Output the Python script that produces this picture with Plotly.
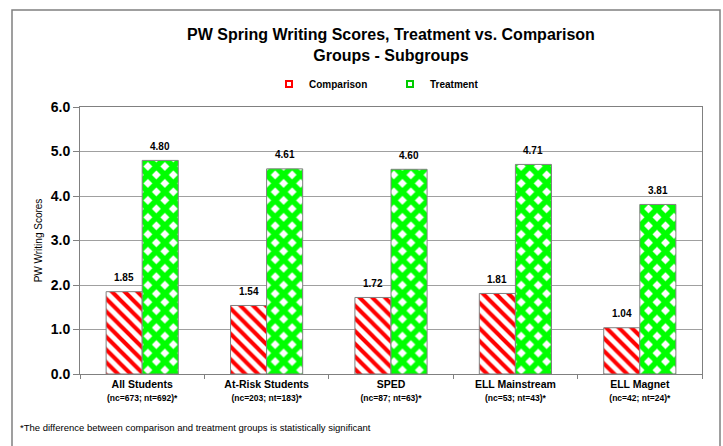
import plotly.graph_objects as go

categories = ["All Students", "At-Risk Students", "SPED", "ELL Mainstream", "ELL Magnet"]
sample_notes = ["(nc=673; nt=692)*", "(nc=203; nt=183)*", "(nc=87; nt=63)*", "(nc=53; nt=43)*", "(nc=42; nt=24)*"]
comparison = [1.85, 1.54, 1.72, 1.81, 1.04]
treatment = [4.80, 4.61, 4.60, 4.71, 3.81]
y_ticks = [0, 1, 2, 3, 4, 5, 6]
y_ticklabels = ["0.0", "1.0", "2.0", "3.0", "4.0", "5.0", "6.0"]

FONT = "Liberation Sans, Arial, sans-serif"

fig = go.Figure()
fig.add_trace(go.Bar(
    name="Comparison", x=categories, y=comparison, showlegend=False,
    marker=dict(color="white", line=dict(color="#808080", width=1),
                pattern=dict(shape="\\", fgcolor="#FF0000", bgcolor="white", fgopacity=1,
                             size=9, solidity=0.45, fillmode="replace")),
))
fig.add_trace(go.Bar(
    name="Treatment", x=categories, y=treatment, showlegend=False,
    marker=dict(color="#00FF00", line=dict(color="#808080", width=1),
                pattern=dict(shape="x", fgcolor="#00FF00", bgcolor="white", fgopacity=1,
                             size=12, solidity=0.72, fillmode="replace")),
))
# legend keys (small square swatches)
fig.add_trace(go.Scatter(
    name="<b>Comparison</b>", x=[None], y=[None], mode="markers",
    marker=dict(symbol="square", size=6, color="white", line=dict(color="#FF0000", width=2))))
fig.add_trace(go.Scatter(
    name="<b>Treatment</b>", x=[None], y=[None], mode="markers",
    marker=dict(symbol="square", size=6, color="white", line=dict(color="#00CC00", width=2))))

annotations = []
for i, c in enumerate(categories):
    for val, shift in ((comparison[i], -18), (treatment[i], 18)):
        annotations.append(dict(
            x=c, y=val, xref="x", yref="y", text=f"<b>{val:.2f}</b>",
            showarrow=False, xshift=shift, yshift=14,
            font=dict(family=FONT, size=10, color="black")))

annotations.append(dict(
    x=(18 - 80) / 622, y=(374 - 427) / 267, xref="paper", yref="paper",
    xanchor="left", yanchor="middle",
    text="*The difference between comparison and treatment groups is statistically significant",
    showarrow=False, font=dict(family=FONT, size=9.5, color="black")))

ticktext = [f"<b>{c}</b><br><span style='font-size:8.5px'><b>{n}</b></span>"
            for c, n in zip(categories, sample_notes)]

fig.update_layout(
    width=723, height=446,
    margin=dict(l=80, r=21, t=107, b=72),
    paper_bgcolor="white", plot_bgcolor="white",
    barmode="group", bargap=0.42, bargroupgap=0,
    title=dict(text="<b>PW Spring Writing Scores, Treatment vs. Comparison<br>Groups - Subgroups</b>",
               x=0.5, xref="paper", y=0.91, yanchor="middle",
               font=dict(family=FONT, size=16, color="black")),
    legend=dict(orientation="h", x=(269 - 80) / 622, xanchor="left",
                y=(374 - 84) / 267, yanchor="middle",
                font=dict(family=FONT, size=10, color="black"),
                itemwidth=30, entrywidth=76, bgcolor="rgba(0,0,0,0)"),
    showlegend=True,
    annotations=annotations,
    xaxis=dict(tickmode="array", tickvals=categories, ticktext=ticktext, automargin=False,
               tickfont=dict(family=FONT, size=10.5, color="black"),
               showline=True, linecolor="#808080", linewidth=1, mirror=True,
               ticks="outside", tickson="boundaries", ticklen=4, tickcolor="#808080",
               showgrid=False),
    yaxis=dict(range=[0, 6], tickvals=y_ticks, ticktext=[f"<b>{t}</b>" for t in y_ticklabels],
               automargin=False,
               tickfont=dict(family=FONT, size=14, color="black"),
               showline=True, linecolor="#808080", linewidth=1, mirror=True,
               ticks="outside", ticklen=6, tickcolor="#808080",
               showgrid=True, gridcolor="#A0A0A0", gridwidth=1,
               title=dict(text="PW Writing Scores", font=dict(family=FONT, size=10, color="black"),
                          standoff=6)),
    shapes=[dict(type="rect", xref="paper", yref="paper",
                 x0=(12 - 80) / 622, x1=(720 - 80) / 622,
                 y0=(374 - 460) / 267, y1=(374 - 10) / 267,
                 line=dict(color="#808080", width=1.5), fillcolor="rgba(0,0,0,0)", layer="below")],
)

fig.write_html("out.html", config={"displayModeBar": False},
               post_script="document.body.style.margin='0';document.body.style.overflow='hidden';")
